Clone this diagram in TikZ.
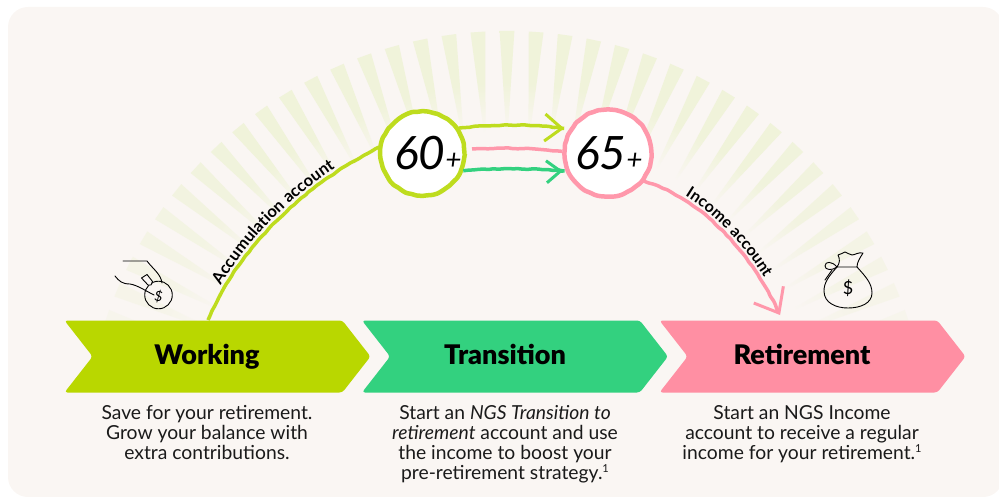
\documentclass[tikz,border=0pt]{standalone}
\usepackage{fontspec}
\setmainfont{Lato}
\newfontfamily\headfont{Lato Black}
\usetikzlibrary{arrows.meta,shapes.symbols,decorations.pathmorphing,decorations.text}

\definecolor{panelbg}{HTML}{FAF6F3}
\definecolor{raycol}{HTML}{F0F3DA}
\definecolor{limecol}{HTML}{B9D700}
\definecolor{limeink}{HTML}{BEDC1E}
\definecolor{greencol}{HTML}{33D17F}
\definecolor{pinkcol}{HTML}{FF8FA3}
\definecolor{pinkink}{HTML}{FF98AB}
\definecolor{inkcol}{HTML}{1A1A1A}

\pgfdeclareverticalshading{rayfade}{100bp}{color(0bp)=(panelbg); color(30bp)=(panelbg); color(52bp)=(raycol); color(100bp)=(raycol)}
\newcommand{\notemark}{\raisebox{6.5pt}{\fontsize{11}{11}\selectfont 1}}

\tikzset{
    chevron/.style={shape=signal, signal from=west, signal to=east, signal pointer angle=104,
        minimum width=306pt, minimum height=72pt, inner sep=0pt, outer sep=0pt, rounded corners=3pt},
    chevlabel/.style={font=\headfont\fontsize{27}{27}\selectfont, text=black, inner sep=0pt, anchor=base},
    blurb/.style={font=\fontsize{19.3}{20}\selectfont, text=inkcol, align=center, anchor=north, inner sep=0pt},
    rough/.style={decorate, decoration={random steps, segment length=5pt, amplitude=.5pt}, rounded corners=1pt},
    agecircle/.style={shape=circle, draw=#1, line width=4.5pt, fill=white, inner sep=0pt, rough},
    ageword/.style={font=\itshape\fontsize{46}{46}\selectfont, text=black},
    inkline/.style={line width=3.5pt, rough},
    barb/.style 2 args={-{Straight Barb[length=#1pt, width=#2pt, line width=3pt]}},
    alongtext/.style 2 args={decorate, decoration={text along path, text align={align=left, left indent=#1pt}, raise=4pt, text={#2}}},
    icon/.style={draw=black, line width=.9pt, line join=round, line cap=round}
}

\begin{document}
\begin{tikzpicture}[x=1pt,y=-1pt]
    \useasboundingbox (0,0) rectangle (999,497);
    \fill[panelbg, rounded corners=20pt] (8,7) rectangle (1003,497); % Panel

    \foreach \i in {-18,...,18} { % Rays
        \pgfmathsetmacro{\rayslant}{-3.95*\i}
        \pgfmathsetmacro{\rayop}{min(1,1-(abs(\i)-10)*0.09)}
        \shade[shading=rayfade, opacity=\rayop, transform canvas={rotate around={\rayslant:(507,454)}}]
            (499.6,31) -- (514.4,31) -- (507,144) -- cycle;
    }

    \node[chevron, fill=limecol] (working) at (217.5,356.5) {};
    \node[chevron, fill=greencol] (transition) at (515,356.5) {};
    \node[chevron, fill=pinkcol] (retirement) at (812.5,356.5) {};
    \node[chevlabel] (workinglabel) at (207,364) {Working};
    \node[chevlabel] (transitionlabel) at (505,364) {Transition};
    \node[chevlabel] (retirementlabel) at (802,364) {Retirement};

    \node[blurb] (workingblurb) at (207,405) {Save for your retirement.\\Grow your balance with\\extra contributions.};
    \node[blurb] (transitionblurb) at (505,405) {Start an \textit{NGS Transition to}\\\textit{retirement} account and use\\the income to boost your\\pre-retirement strategy.\notemark};
    \node[blurb] (retirementblurb) at (802,405) {Start an NGS Income\\account to receive a regular\\income for your retirement.\notemark};

    \node[agecircle=limeink, minimum size=84pt] (sixty) at (422.5,153.5) {};
    \node[agecircle=pinkink, minimum size=87pt] (sixtyfive) at (608,153) {};
    \node[ageword] (sixtyword) at (428,153) {60{\fontsize{28}{28}\selectfont+}};
    \node[ageword] (sixtyfiveword) at (609,153) {65{\fontsize{28}{28}\selectfont+}};

    \coordinate (workingstart) at (208,320);
    \coordinate (incomeend) at (780,315);
    \coordinate (pinkend) at (472,149);

    \draw[inkline, draw=limeink] (workingstart) .. controls (240,245) and (305,185) .. (sixty.172);
    \draw[inkline, draw=pinkink, barb={21}{34}] (sixtyfive.-38) .. controls (700,198) and (750,250) .. (incomeend);
    \draw[inkline, draw=limeink, barb={17}{27}, shorten >=5pt] (sixty.35) to[bend left=6] (sixtyfive.148);
    \draw[inkline, draw=pinkink] (sixtyfive.178) to[bend right=4] (pinkend);
    \draw[inkline, draw=greencol, barb={14}{22}, shorten >=3pt] (sixty.-23) to[bend left=4] (sixtyfive.203);

    \path[alongtext={36}{|\fontsize{16.5}{16.5}\selectfont\bfseries|Accumulation account}]
        (workingstart) .. controls (240,245) and (305,185) .. (sixty.172);
    \path[alongtext={43}{|\fontsize{16}{16}\selectfont\bfseries|Income account}]
        (sixtyfive.-38) .. controls (700,198) and (750,250) .. (incomeend);

    % Hand with coin
    \draw[icon] (158.5,295) circle (13.8);
    \draw[icon] (123,261) -- (147,261) .. controls (152,268) and (161,274) .. (162,283);
    \draw[icon] (115,276) .. controls (119,281) and (122,284) .. (130,284) .. controls (137,285) and (146,291) .. (154,295);
    \draw[icon, fill=panelbg] (141.5,278) -- (147,274.5) -- (152.5,281.5) -- (151,285) -- (148,285) -- cycle;
    \node[font=\fontsize{14}{14}\selectfont, rotate=-12, inner sep=0pt] (coinsign) at (158.5,297) {\$};

    % Money bag
    \draw[icon] (837,267) .. controls (828,277) and (824,283) .. (824,291) .. controls (824,303) and (836,308) .. (848,308)
        .. controls (861,308) and (872,303) .. (872,293) .. controls (872,283) and (865,276) .. (857,267);
    \draw[icon] (837,267) -- (857,267) .. controls (857,262) and (860,258) .. (863,253) .. controls (858,252) and (855,255) .. (852,255)
        .. controls (849,255) and (847,252) .. (845,252) .. controls (843,252) and (841,255) .. (838,255) .. controls (840,259) and (840,263) .. (837,267);
    \draw[icon] (837,267) .. controls (832,261) and (825,261) .. (825,266) .. controls (825,270) and (832,271) .. (837,267);
    \draw[icon] (832,270) -- (825,280);
    \node[font=\fontsize{18}{18}\selectfont, inner sep=0pt] (bagsign) at (848,288) {\$};
\end{tikzpicture}
\end{document}
